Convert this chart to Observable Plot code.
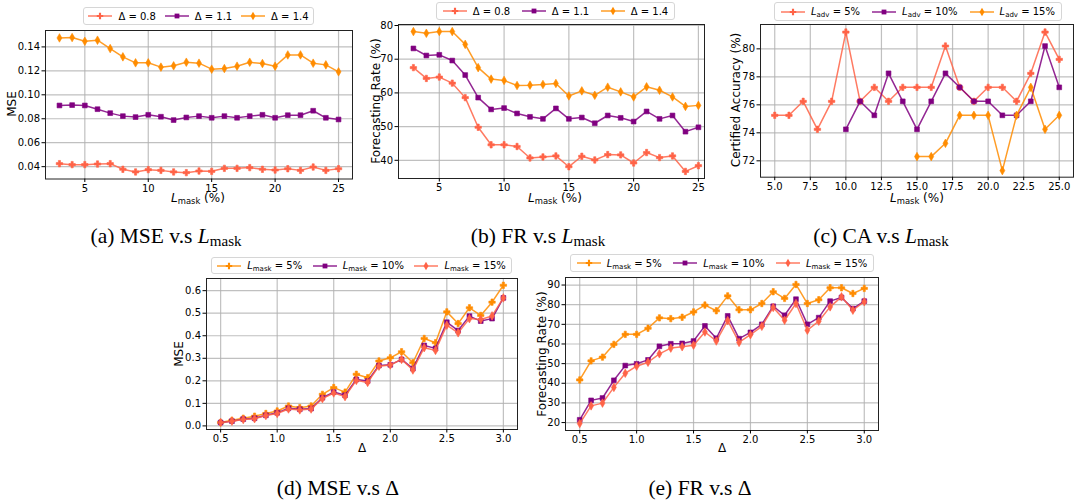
<!DOCTYPE html>
<html><head><meta charset="utf-8">
<script src="https://cdn.jsdelivr.net/npm/d3@7"></script>
<script src="https://cdn.jsdelivr.net/npm/@observablehq/plot@0.6"></script>
<style>
body{margin:0;background:#fff;width:1074px;height:502px;position:relative;overflow:hidden;font-family:"DejaVu Sans",sans-serif;color:#000;}
svg.panel{position:absolute;overflow:visible;}
.lbl{position:absolute;font-size:12px;white-space:nowrap;}
.ylbl{transform:translate(-50%,-50%) rotate(-90deg);}
.xlbl{transform:translate(-50%,-50%);}
.legend{position:absolute;border:1px solid #d6d6d6;border-radius:3px;background:#fff;display:flex;align-items:center;justify-content:space-around;font-size:10px;box-sizing:border-box;white-space:nowrap;}
.legend .it{display:flex;align-items:center;gap:6px;}
.cap{position:absolute;font-family:"Liberation Serif",serif;font-size:21.5px;transform:translate(-50%,-50%);white-space:nowrap;}
sub{font-size:0.7em;vertical-align:-0.25em;line-height:0;}
</style></head><body>
<script>
// ---------- data ----------
const colSalmon = "#ff6347", colPurple = "#800080", colOrange = "#ff8c00";

const lmaskPct = [3,4,5,6,7,8,9,10,11,12,13,14,15,16,17,18,19,20,21,22,23,24,25];
const deltaNames = ["0.8", "1.1", "1.4"];
const mseD08 = [0.0425,0.0417,0.0417,0.0422,0.0425,0.0378,0.0356,0.0375,0.0369,0.0356,0.0350,0.0364,0.0361,0.0386,0.0386,0.0392,0.0378,0.0372,0.0383,0.0369,0.0397,0.0369,0.0383];
const mseD11 = [0.0911,0.0914,0.0911,0.0880,0.0847,0.0822,0.0814,0.0833,0.0817,0.0789,0.0811,0.0822,0.0808,0.0822,0.0808,0.0822,0.0833,0.0808,0.0830,0.0830,0.0867,0.0808,0.0794];
const mseD14 = [0.1475,0.1478,0.1447,0.1456,0.1386,0.1317,0.1267,0.1267,0.1231,0.1242,0.1272,0.1264,0.1214,0.1219,0.1239,0.1272,0.1261,0.1239,0.1333,0.1333,0.1264,0.1250,0.1192];

const frD08 = [67.5,64.3,64.7,62.9,58.6,49.8,44.6,44.6,44.1,40.7,41.0,41.3,38.1,41.2,40.1,41.7,41.6,39.2,42.3,40.8,41.3,36.7,38.4];
const frD11 = [73.2,71.1,71.3,69.6,65.3,58.6,55.1,55.5,53.9,52.9,52.3,55.4,52.3,52.7,51.0,53.3,52.6,51.5,54.5,52.3,53.3,48.5,49.8];
const frD14 = [78.2,77.7,78.2,78.2,74.4,67.5,64.1,63.7,62.2,62.3,62.5,62.8,59.1,60.6,59.3,61.7,60.3,58.8,61.8,60.8,58.8,56.0,56.3];

const advNames = ["5%", "10%", "15%"];
const lmaskC5 = [5,6,7,8,9,10,11,12,13,14,15,16,17,18,19,20,21,22,23,24,25];
const caAdv5 = [75.25,75.25,76.25,74.25,76.25,81.2,76.25,77.25,76.25,77.25,77.25,77.25,80.2,77.25,76.25,77.25,77.25,76.25,78.25,81.2,79.25];
const lmaskC10 = [10,11,12,13,14,15,16,17,18,19,20,21,22,23,24,25];
const caAdv10 = [74.25,76.25,75.25,78.25,76.25,74.25,76.25,78.25,77.25,76.25,76.25,75.25,75.25,76.25,80.2,77.25];
const lmaskC15 = [15,16,17,18,19,20,21,22,23,24,25];
const caAdv15 = [72.3,72.3,73.25,75.25,75.25,75.25,71.3,75.25,77.25,74.25,75.25];

const maskNames = ["5%", "10%", "15%"];
const deltaVals = [0.5,0.6,0.7,0.8,0.9,1.0,1.1,1.2,1.3,1.4,1.5,1.6,1.7,1.8,1.9,2.0,2.1,2.2,2.3,2.4,2.5,2.6,2.7,2.8,2.9,3.0];
const mseL5 = [0.015,0.025,0.034,0.043,0.055,0.066,0.088,0.081,0.088,0.140,0.170,0.150,0.229,0.214,0.288,0.302,0.329,0.280,0.388,0.369,0.506,0.454,0.524,0.490,0.549,0.624];
const mseL10 = [0.015,0.021,0.030,0.034,0.047,0.058,0.078,0.074,0.077,0.125,0.150,0.136,0.206,0.199,0.268,0.271,0.295,0.254,0.357,0.344,0.460,0.423,0.487,0.465,0.476,0.568];
const mseL15 = [0.015,0.021,0.028,0.032,0.046,0.055,0.075,0.071,0.075,0.121,0.146,0.130,0.202,0.193,0.265,0.270,0.295,0.248,0.347,0.335,0.447,0.413,0.476,0.472,0.488,0.568];

const frL5 = [41.7,51.4,53.3,59.8,64.9,64.9,68.0,73.3,72.9,73.6,76.3,79.8,76.9,84.5,77.4,77.4,80.6,86.6,83.2,90.3,80.6,82.5,88.6,88.6,85.7,88.3];
const frL10 = [21.4,31.3,32.5,41.5,49.0,49.9,51.9,58.8,60.1,60.3,61.5,69.2,62.9,74.3,62.7,65.9,70.0,79.2,74.6,82.8,70.0,73.4,81.8,83.7,78.0,81.8];
const frL15 = [19.5,28.5,29.9,37.9,45.1,48.7,50.7,55.0,57.9,58.6,59.4,66.1,61.5,71.9,60.8,64.7,69.0,78.6,72.1,80.6,67.0,71.6,78.9,84.0,77.2,81.5];

const ticksLmask = [5,10,15,20,25];
const ticksLmaskC = [5,7.5,10,12.5,15,17.5,20,22.5,25];
const ticksDelta = [0.5,1.0,1.5,2.0,2.5,3.0];
const ticksMseA = [0.04,0.06,0.08,0.10,0.12,0.14];
const ticksFrB = [40,50,60,70,80];
const ticksCaC = [72,74,76,78,80];
const ticksMseD = [0,0.1,0.2,0.3,0.4,0.5,0.6];
const ticksFrE = [20,30,40,50,60,70,80,90];

const symFirst = "cross", symSecond = "square", symThird = "diamond";
const rFirst = 2.7, rSecond = 2.7, rThird = 2.6;

// ---------- helpers ----------
const M = {l: 42, r: 10, t: 10, b: 28};
function drawPanel(cfg) {
  const [fl, fr, ft, fb] = cfg.frame;
  const marks = [
    Plot.gridX(cfg.xTicks, {stroke: "#b0b0b0", strokeOpacity: 0.8, strokeWidth: 1.2}),
    Plot.gridY(cfg.yTicks, {stroke: "#b0b0b0", strokeOpacity: 0.8, strokeWidth: 1.2})
  ];
  for (const s of cfg.series) {
    const d = s.x.map((x, i) => ({x, y: s.y[i]}));
    marks.push(Plot.line(d, {x: "x", y: "y", stroke: s.color, strokeWidth: 1.5, strokeOpacity: 0.85}));
    marks.push(Plot.dot(d, {x: "x", y: "y", fill: s.color, stroke: s.color, strokeWidth: 0.6, symbol: s.symbol, r: s.r}));
  }
  marks.push(Plot.frame({stroke: "#222", strokeWidth: 1}));
  marks.push(Plot.axisX(cfg.xTicks, {tickSize: 3.5, tickPadding: 2, tickFormat: cfg.xFmt, label: null, fontSize: 10}));
  marks.push(Plot.axisY(cfg.yTicks, {tickSize: 3.5, tickPadding: 2, tickFormat: cfg.yFmt, label: null, fontSize: 10}));
  const svg = Plot.plot({
    width: (fr - fl) + M.l + M.r, height: (fb - ft) + M.t + M.b,
    marginLeft: M.l, marginRight: M.r, marginTop: M.t, marginBottom: M.b,
    x: {domain: cfg.xDomain}, y: {domain: cfg.yDomain},
    style: {fontFamily: "DejaVu Sans", fontSize: "10px", color: "#000", background: "transparent", overflow: "visible"},
    marks
  });
  svg.classList.add("panel");
  svg.style.left = (fl - M.l) + "px";
  svg.style.top = (ft - M.t) + "px";
  svg.style.position = "absolute";
  document.body.appendChild(svg);
}
function addLabel(html, x, y, rotate) {
  const d = document.createElement("div");
  d.className = "lbl " + (rotate ? "ylbl" : "xlbl");
  d.innerHTML = html;
  d.style.left = x + "px"; d.style.top = y + "px";
  document.body.appendChild(d);
}
function addCaption(html, x, y) {
  const d = document.createElement("div");
  d.className = "cap"; d.innerHTML = html;
  d.style.left = x + "px"; d.style.top = y + "px";
  document.body.appendChild(d);
}
const symMap = {cross: d3.symbolCross, square: d3.symbolSquare, diamond: d3.symbolDiamond};
function addLegend(items, box) {
  const d = document.createElement("div");
  d.className = "legend";
  Object.assign(d.style, {left: box[0] + "px", top: box[1] + "px", width: box[2] + "px", height: box[3] + "px"});
  for (const it of items) {
    const s = document.createElement("span"); s.className = "it";
    const path = d3.symbol(symMap[it.symbol], Math.PI * it.r * it.r)();
    s.innerHTML = `<svg width="24" height="10" style="overflow:visible"><line x1="0" x2="24" y1="5" y2="5" stroke="${it.color}" stroke-width="1.5" stroke-opacity="0.85"/><path transform="translate(12,5)" d="${path}" fill="${it.color}"/></svg><span>${it.label}</span>`;
    d.appendChild(s);
  }
  document.body.appendChild(d);
}
const f2 = d3.format(".2f"), f1 = d3.format(".1f"), f0 = d3.format("d");
const Lmask = `<i>L</i><sub>mask</sub>`;
const Ladv = `<i>L</i><sub>adv</sub>`;
const rowItems = (labels, colors) => labels.map((label, i) => ({label, color: colors[i],
  symbol: [symFirst, symSecond, symThird][i], r: [rFirst, rSecond, rThird][i]}));
const mkSeries = (xs, ys, colors) => ys.map((y, i) => ({x: xs[i], y, color: colors[i],
  symbol: [symFirst, symSecond, symThird][i], r: [rFirst, rSecond, rThird][i]}));
const topColors = [colSalmon, colPurple, colOrange];
const botColors = [colOrange, colPurple, colSalmon];

// ---------- (a) ----------
drawPanel({frame: [45, 352, 29.5, 178], xDomain: [1.9, 26.1], yDomain: [0.0297, 0.1537],
  xTicks: ticksLmask, yTicks: ticksMseA, xFmt: f0, yFmt: f2,
  series: mkSeries([lmaskPct, lmaskPct, lmaskPct], [mseD08, mseD11, mseD14], topColors)});
addLegend(rowItems(deltaNames.map(v => `Δ = ${v}`), topColors), [83, 7, 231, 18]);
addLabel("MSE", 12, 104, true);
addLabel(`${Lmask} (%)`, 198, 198, false);
addCaption(`(a) MSE v.s ${Lmask}`, 166, 236);

// ---------- (b) ----------
drawPanel({frame: [398, 704, 24, 178], xDomain: [1.85, 25.47], yDomain: [34.6, 80.3],
  xTicks: ticksLmask, yTicks: ticksFrB, xFmt: f0, yFmt: f0,
  series: mkSeries([lmaskPct, lmaskPct, lmaskPct], [frD08, frD11, frD14], topColors)});
addLegend(rowItems(deltaNames.map(v => `Δ = ${v}`), topColors), [436, 2, 239, 18]);
addLabel("Forecasting Rate (%)", 376, 101, true);
addLabel(`${Lmask} (%)`, 555, 198, false);
addCaption(`(b) FR v.s ${Lmask}`, 538, 236);

// ---------- (c) ----------
drawPanel({frame: [760, 1073, 24, 176.7], xDomain: [4, 26], yDomain: [70.83, 81.74],
  xTicks: ticksLmaskC, yTicks: ticksCaC, xFmt: f1, yFmt: f0,
  series: mkSeries([lmaskC5, lmaskC10, lmaskC15], [caAdv5, caAdv10, caAdv15], topColors)});
addLegend(rowItems(advNames.map(v => `${Ladv} = ${v}`), topColors), [774, 2, 288, 19]);
addLabel("Certified Accuracy (%)", 736, 100, true);
addLabel(`${Lmask} (%)`, 917, 198, false);
addCaption(`(c) CA v.s ${Lmask}`, 881, 236);

// ---------- (d) ----------
drawPanel({frame: [206, 517, 278, 429], xDomain: [0.375, 3.125], yDomain: [-0.016, 0.654],
  xTicks: ticksDelta, yTicks: ticksMseD, xFmt: f1, yFmt: f1,
  series: mkSeries([deltaVals, deltaVals, deltaVals], [mseL5, mseL10, mseL15], botColors)});
addLegend(rowItems(maskNames.map(v => `${Lmask} = ${v}`), botColors), [211, 257, 301, 17]);
addLabel("MSE", 179, 354, true);
addLabel("Δ", 362, 448, false);
addCaption(`(d) MSE v.s Δ`, 338, 488);

// ---------- (e) ----------
drawPanel({frame: [565, 878, 277, 430], xDomain: [0.375, 3.125], yDomain: [15.96, 93.84],
  xTicks: ticksDelta, yTicks: ticksFrE, xFmt: f1, yFmt: f0,
  series: mkSeries([deltaVals, deltaVals, deltaVals], [frL5, frL10, frL15], botColors)});
addLegend(rowItems(maskNames.map(v => `${Lmask} = ${v}`), botColors), [570, 254, 304, 18]);
addLabel("Forecasting Rate (%)", 542, 354, true);
addLabel("Δ", 722, 448, false);
addCaption(`(e) FR v.s Δ`, 700, 488);
</script>
</body></html>
